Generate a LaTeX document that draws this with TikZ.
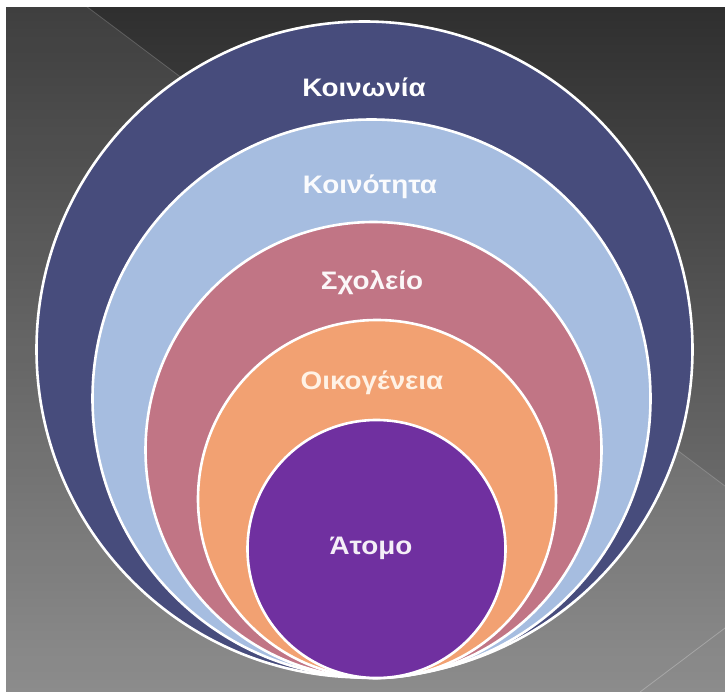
\documentclass[tikz,border=0pt]{standalone}
\usepackage{fontspec}
\setmainfont{Liberation Sans}
\newfontfamily\lblfont[FakeStretch=1.1]{Liberation Sans Bold}
\definecolor{bgtop}{HTML}{2E2E2E}
\definecolor{bgbot}{HTML}{838383}
\definecolor{navy}{HTML}{474C7C}
\definecolor{lblue}{HTML}{A6BDE0}
\definecolor{mauve}{HTML}{C17585}
\definecolor{orng}{HTML}{F2A172}
\definecolor{purp}{HTML}{7030A0}
\begin{document}
\begin{tikzpicture}[x=1pt,y=-1pt,
  ring/.style={circle, draw=white, line width=2.6pt, inner sep=0pt},
  lbl/.style={font=\lblfont\fontsize{25.3}{27}\selectfont, text=white, inner sep=0pt}]
\useasboundingbox (0,0) rectangle (725,692);
% background
\shade[top color=bgtop, bottom color=bgbot] (0,0) rectangle (725,692);
\fill[white, opacity=0.08] (78,0) -- (725,486) -- (725,692) -- (0,692) -- (0,0) -- cycle;
\coordinate (d1) at (78,0);
\coordinate (d2) at (725,486);
\coordinate (d3) at (640,692);
\coordinate (d4) at (725,628);
\draw[white, opacity=0.18, line width=0.8pt] (d1) -- (d2);
\draw[white, opacity=0.25, line width=0.8pt] (d3) -- (d4);
\fill[white] (0,0) rectangle (725,7);
\fill[white] (0,0) rectangle (6,692);
% rings
\node[ring, fill=navy,  minimum size=656pt] (soc)  at (364.5,349.5) {};
\node[ring, fill=lblue, minimum size=558pt] (com)  at (371.5,398.5) {};
\node[ring, fill=mauve, minimum size=456pt] (sch)  at (373.5,450) {};
\node[ring, fill=orng,  minimum size=358pt] (fam)  at (377,499) {};
\node[ring, fill=purp,  minimum size=258pt] (ind)  at (376.5,549) {};
% labels
\node[lbl] (tsoc) at (364,87) {Κοινωνία};
\node[lbl, text=white!94!lblue] (tcom) at (370,187) {Κοινότητα};
\node[lbl, text=white!94!mauve] (tsch) at (372,283) {Σχολείο};
\node[lbl, text=white!90!orange] (tfam) at (372,383) {Οικογένεια};
\node[lbl, text=white!92!purp] (tind) at (371,548) {Άτομο};
\end{tikzpicture}
\end{document}
